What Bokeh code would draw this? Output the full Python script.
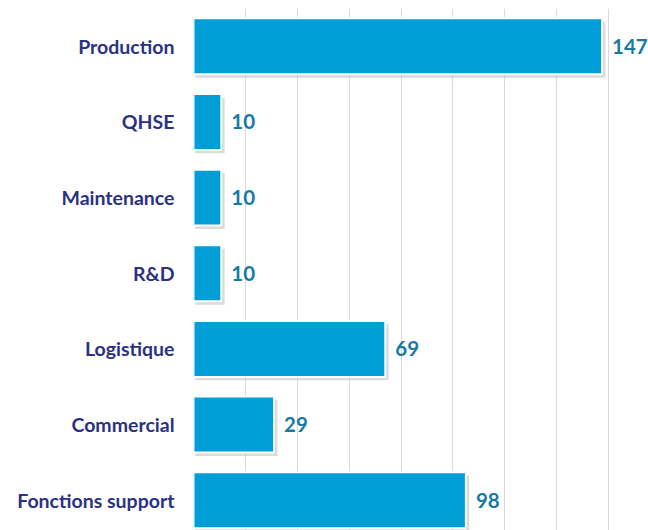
from bokeh.plotting import figure
from bokeh.models import FixedTicker, Range1d, ColumnDataSource
from bokeh.core.properties import value
from bokeh.embed import file_html
from bokeh.resources import INLINE

categories = ["Production", "QHSE", "Maintenance", "R&D", "Logistique", "Commercial", "Fonctions support"]
values = [147, 10, 10, 10, 69, 29, 98]
grid_step = 18.67

n = len(categories)
ypos = [n - 1 - i for i in range(n)]
src = ColumnDataSource(dict(y=ypos, v=values, lab=[str(v) for v in values],
                            ys=[y - 0.045 for y in ypos], vs=[v + 1.2 for v in values]))

p = figure(width=648, height=530, output_backend="svg", toolbar_location=None,
           x_range=Range1d(0, 163.7), y_range=Range1d(-0.4, n - 0.5),
           min_border_left=193, min_border_right=0, min_border_top=8, min_border_bottom=0)
p.outline_line_color = None
p.background_fill_color = "white"
p.border_fill_color = "white"

p.hbar(y="ys", right="vs", left=0.6, height=0.74, source=src, color="#bdbdbd", fill_alpha=0.55, line_alpha=0)
p.hbar(y="y", right="v", left=0, height=0.74, source=src, fill_color="#009ed9",
       line_color="white", line_width=2)
p.text(x="v", y="y", text="lab", source=src, x_offset=10, text_baseline="middle",
       text_align="left", text_font=value("Lato"), text_font_style="bold",
       text_font_size="20.5px", text_color="#177aa3")

p.xaxis.visible = False
p.xgrid.ticker = FixedTicker(ticks=[i * grid_step for i in range(10)])
p.xgrid.grid_line_color = "#d9d9d9"
p.xgrid.grid_line_width = 1
p.ygrid.grid_line_color = None

p.yaxis.ticker = FixedTicker(ticks=ypos)
p.yaxis.major_label_overrides = {y: c for y, c in zip(ypos, categories)}
p.yaxis.axis_line_color = None
p.yaxis.major_tick_line_color = None
p.yaxis.minor_tick_line_color = None
p.yaxis.major_label_standoff = 13
p.yaxis.major_label_text_font = "Lato"
p.yaxis.major_label_text_font_style = "bold"
p.yaxis.major_label_text_font_size = "19.5px"
p.yaxis.major_label_text_color = "#2b3282"

open("out.html", "w").write(file_html(p, INLINE))
